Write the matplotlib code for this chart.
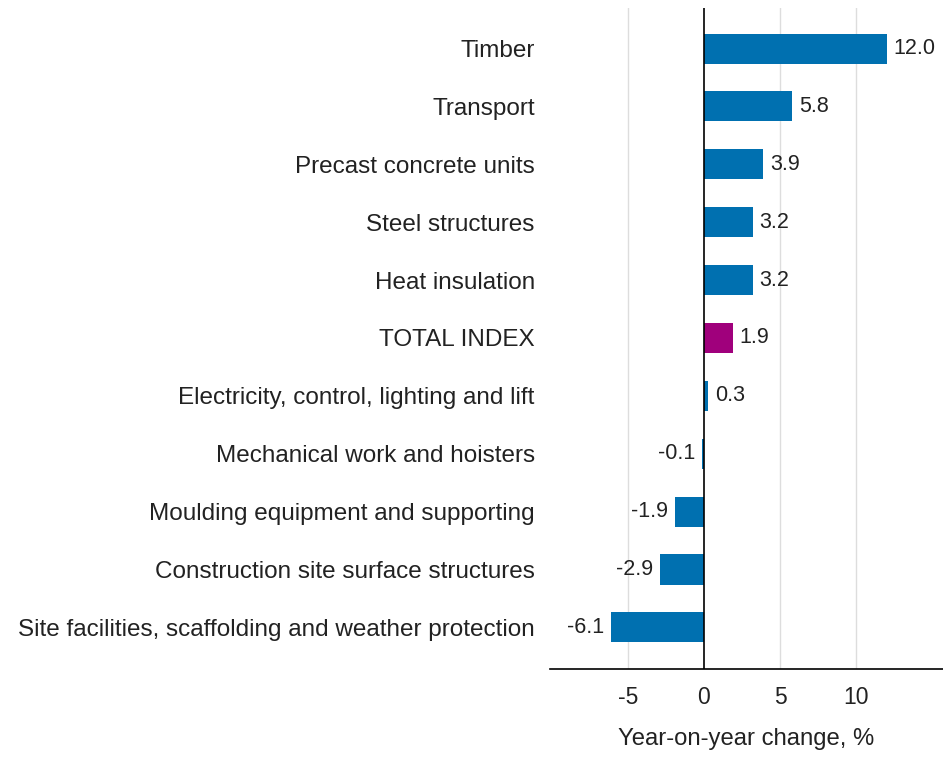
import numpy as np
import matplotlib.pyplot as plt

plt.rcParams['font.family'] = ['Liberation Sans', 'DejaVu Sans']

categories = ['Timber', 'Transport', 'Precast concrete units', 'Steel structures',
              'Heat insulation', 'TOTAL INDEX', 'Electricity, control, lighting and lift',
              'Mechanical work and hoisters', 'Moulding equipment and supporting',
              'Construction site surface structures',
              'Site facilities, scaffolding and weather protection']
values = [12.0, 5.8, 3.9, 3.2, 3.2, 1.9, 0.3, -0.1, -1.9, -2.9, -6.1]
highlight = 'TOTAL INDEX'

blue = '#0070b0'
purple = '#a0007c'
colors = [purple if c == highlight else blue for c in categories]

fig = plt.figure(figsize=(9.43, 7.58), dpi=100)
ax = fig.add_axes([0.5833, 0.1174, 0.4167, 0.872])

y = np.arange(len(categories))
ax.barh(y, values, height=0.52, color=colors, zorder=3)

for yi, v in zip(y, values):
    if v >= 0:
        ax.text(v + 0.45, yi, f'{v:.1f}', va='center', ha='left', fontsize=15.5, color='#222222')
    else:
        ax.text(v - 0.45, yi, f'{v:.1f}', va='center', ha='right', fontsize=15.5, color='#222222')

ax.set_xlim(-10.1, 15.7)
ax.set_ylim(10.72, -0.7)
ax.set_yticks(y)
ax.set_yticklabels(categories, fontsize=17.5, color='#222222')
ax.set_xticks([-5, 0, 5, 10])
ax.set_xticklabels(['-5', '0', '5', '10'], fontsize=16.5, color='#222222')
ax.tick_params(axis='y', length=0, pad=11)
ax.tick_params(axis='x', length=0, pad=12)

for g in [-5, 5, 10]:
    ax.axvline(g, color='#dddddd', linewidth=1, zorder=1)
ax.axvline(0, color='black', linewidth=1.2, zorder=4)

for s in ['top', 'right', 'left']:
    ax.spines[s].set_visible(False)
ax.spines['bottom'].set_color('black')
ax.spines['bottom'].set_linewidth(1.2)

ax.set_xlabel('Year-on-year change, %', fontsize=17.2, color='#222222', labelpad=14)

fig.savefig('out.png', dpi=100)
